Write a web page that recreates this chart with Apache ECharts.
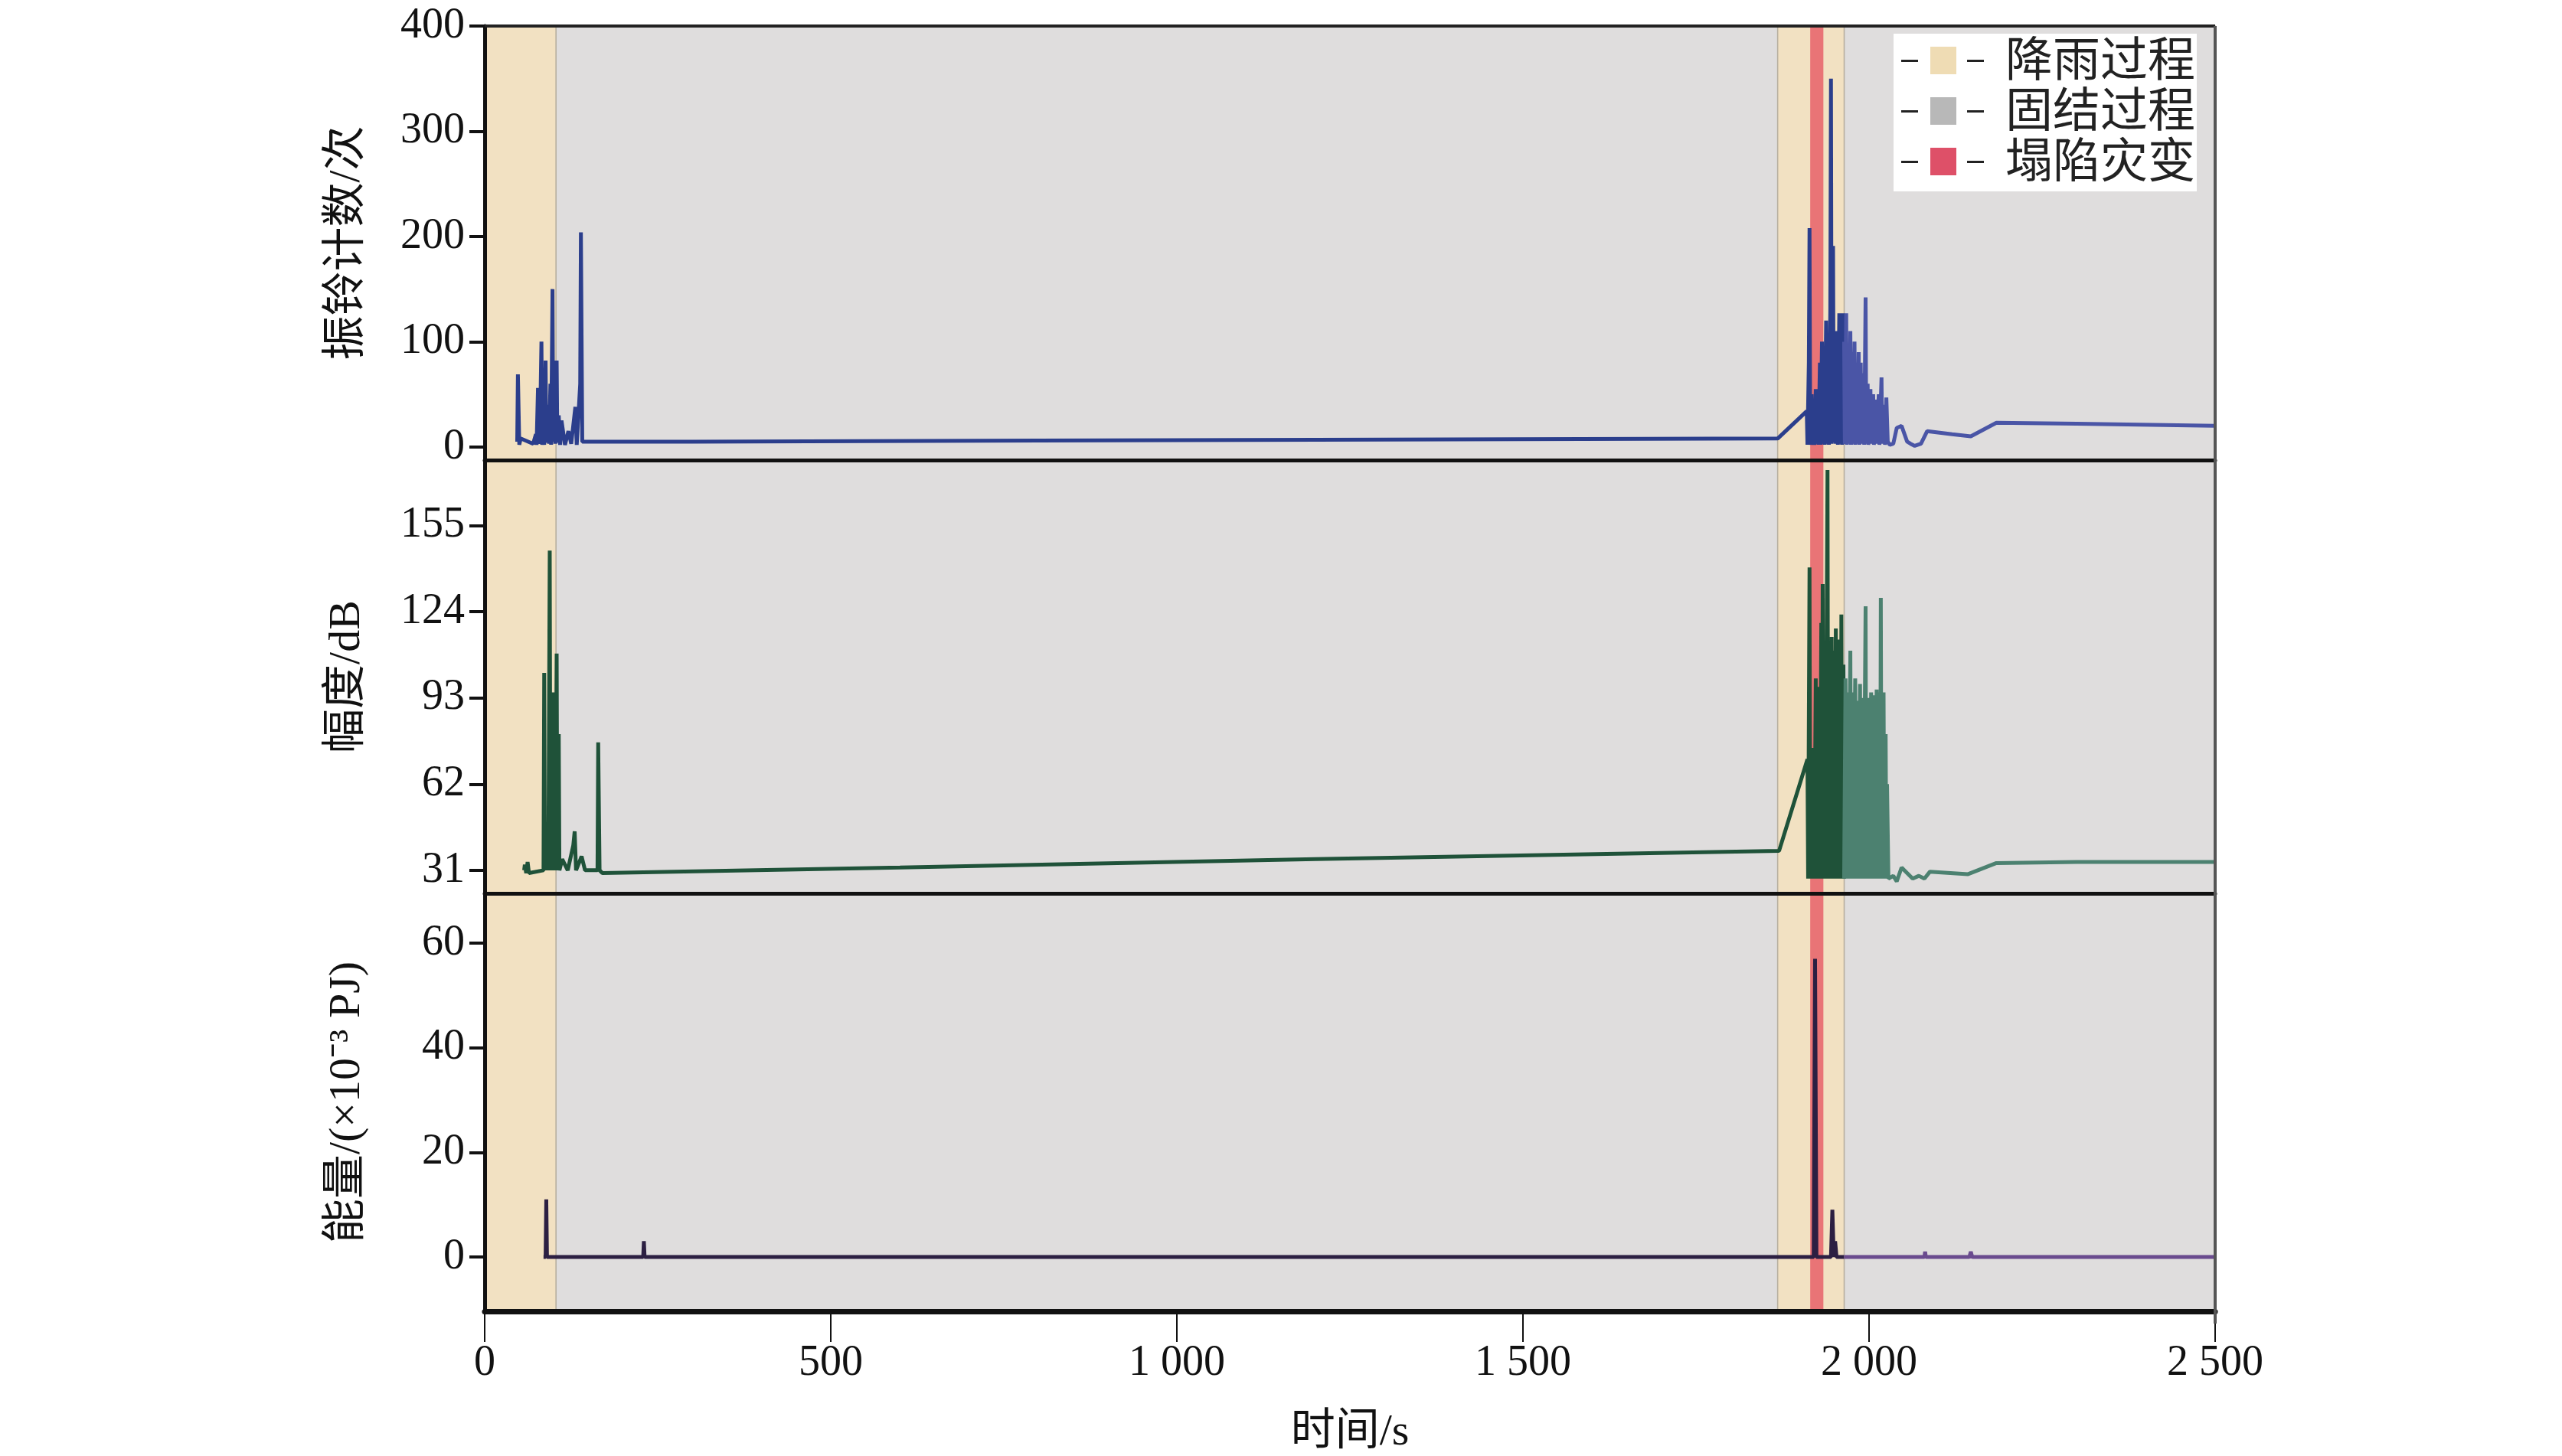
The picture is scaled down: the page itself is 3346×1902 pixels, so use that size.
<!DOCTYPE html>
<html>
<head>
<meta charset="utf-8">
<script src="https://cdn.jsdelivr.net/npm/echarts@6/dist/echarts.min.js"></script>
<style>
html, body { margin: 0; padding: 0; background: #fff; }
#main { width: 3346px; height: 1902px; }
</style>
</head>
<body>
<div id="main"></div>
<script>
// 振铃计数 (time s, count)
var ringEarly = [[47,5],[48,69],[50,2],[52,8],[70,3],[74,12],[75,2],[77,56],[78,3],[80,20],[82,100],[83,2],[85,30],[86,2],[88,82],[89,4],[91,40],[93,3],[95,60],[96,2],[98,150],[99,5],[101,35],[102,3],[104,82],[105,4],[107,30],[109,2],[111,25],[116,2],[121,15],[125,3],[131,38],[133,2],[138,60],[139,204],[141,5],[300,5],[800,6],[1300,7],[1868,8],[1910,34],[1911,2],[1913,80],[1914,208],[1915,2],[1917,50],[1918,2],[1920,45],[1921,2],[1923,55],[1924,3],[1926,40],[1927,2],[1929,80],[1930,2],[1932,100],[1933,3],[1935,60],[1936,2],[1938,120],[1939,3],[1941,90],[1942,2],[1944,130],[1945,350],[1946,3],[1948,191],[1949,4],[1951,90],[1952,3],[1954,110],[1955,2],[1957,127],[1958,3],[1960,80],[1961,2],[1962,127],[1963,3],[1964,100]]
var ringLate = [[1964,100],[1965,3],[1967,127],[1968,2],[1970,80],[1971,3],[1973,110],[1974,2],[1976,90],[1977,3],[1979,100],[1980,2],[1982,70],[1983,3],[1985,90],[1986,2],[1988,80],[1989,3],[1992,70],[1993,2],[1995,142],[1996,3],[1998,60],[1999,2],[2002,55],[2003,3],[2006,50],[2007,2],[2010,45],[2011,3],[2014,50],[2015,2],[2018,66],[2019,3],[2022,40],[2023,2],[2025,47],[2027,5],[2030,2],[2035,3],[2040,18],[2047,20],[2055,5],[2060,3],[2066,1],[2075,3],[2084,15],[2120,12],[2147,10],[2184,23],[2300,22],[2500,20]]
// 幅度 dB
var ampEarly = [[57,31],[58,33],[60,30],[62,34],[64,30],[85,31],[86,102],[87,31],[90,40],[92,31],[94,146],[95,31],[97,60],[98,31],[99,95],[100,33],[101,85],[102,31],[104,109],[105,31],[107,80],[108,31],[112,35],[120,31],[128,40],[130,45],[132,31],[140,36],[145,31],[163,31],[164,77],[166,31],[170,30],[600,32],[1200,35],[1870,38],[1911,71],[1912,28],[1914,140],[1915,28],[1917,60],[1918,28],[1920,75],[1921,28],[1923,100],[1924,28],[1925,97],[1926,28],[1928,90],[1929,28],[1931,120],[1932,28],[1933,134],[1934,28],[1936,100],[1937,28],[1940,175],[1941,28],[1943,105],[1944,28],[1946,115],[1947,28],[1949,110],[1950,28],[1952,118],[1953,28],[1955,114],[1956,28],[1958,100],[1959,28],[1960,123],[1961,28],[1963,105],[1964,28]]
var ampLate = [[1964,28],[1966,100],[1967,28],[1969,95],[1970,28],[1973,110],[1974,28],[1976,95],[1977,28],[1980,100],[1981,28],[1983,92],[1984,28],[1987,98],[1988,28],[1991,93],[1992,28],[1995,126],[1996,28],[1999,93],[2000,28],[2003,95],[2004,28],[2007,94],[2008,28],[2011,96],[2012,28],[2015,95],[2016,28],[2017,129],[2018,28],[2021,95],[2022,28],[2024,80],[2025,28],[2026,62],[2028,28],[2035,29],[2040,27],[2047,32],[2055,30],[2063,28],[2072,29],[2080,28],[2088,30.5],[2143,29.6],[2184,33.6],[2300,34],[2500,34]]
// 能量
var energyEarly = [[85,0],[88,0],[89,11],[90,0],[229,0],[230,3],[231,0],[1000,0],[1920,0],[1922,57],[1924,0],[1945,0],[1947,9],[1949,0],[1951,3],[1953,0],[1964,0]]
var energyLate = [[1964,0],[2080,0],[2081,1],[2082,0],[2145,0],[2147,1],[2149,0],[2500,0]]

var rainRanges = [[0,103],[1868,1964]]
var consolRanges = [[103,1868],[1964,2500]]
var collapseRanges = [[1915,1934]]
var yNames = ['振铃计数/次', '幅度/dB', '能量/(×10⁻³ PJ)']
var yTicks = [[0,100,200,300,400],[31,62,93,124,155],[0,20,40,60]]
var yMin = [-12.5, 22.7, -10.4]
var yMax = [400, 178.6, 69.5]
var xTicks = [0,500,1000,1500,2000,2500]

var FONT = '"Liberation Serif", "Noto Sans CJK SC", serif'
var PL = 633, PW = 2260
var grids = [
  {left: PL, width: PW, top: 34, height: 567},
  {left: PL, width: PW, top: 601, height: 566},
  {left: PL, width: PW, top: 1167, height: 562}
]

function bands(list, color) {
  return list.map(function (r) {
    return [{xAxis: r[0], itemStyle: {color: color, borderColor: '#b8b0a0', borderWidth: 1.5}}, {xAxis: r[1]}]
  })
}

var xAxes = [], yAxes = [], series = []
for (let i = 0; i < 3; i++) {
  xAxes.push({
    type: 'value', gridIndex: i, min: 0, max: 2500, interval: 500, z: 6,
    axisLine: {show: true, onZero: false, lineStyle: {color: '#111', width: i == 2 ? 7 : 5}},
    axisTick: {show: i == 2, length: 40, lineStyle: {color: '#111', width: 2}, customValues: xTicks},
    axisLabel: {show: i == 2, customValues: xTicks, margin: 40, fontFamily: FONT, fontSize: 56, color: '#111',
      formatter: function (v) { return v >= 1000 ? String(v).replace(/(\d)(\d{3})$/, '$1 $2') : String(v) }},
    splitLine: {show: false},
    name: i == 2 ? '时间/s' : '', nameLocation: 'middle', nameGap: 130,
    nameTextStyle: {fontFamily: FONT, fontSize: 58, color: '#111'}
  })
  yAxes.push({
    type: 'value', gridIndex: i, min: yMin[i], max: yMax[i], z: 6,
    axisLine: {show: true, onZero: false, lineStyle: {color: '#111', width: 5}},
    axisTick: {show: true, length: 20, lineStyle: {color: '#111', width: 4}, customValues: yTicks[i]},
    axisLabel: {customValues: yTicks[i], margin: 26, fontFamily: FONT, fontSize: 56, color: '#111'},
    splitLine: {show: false},
    name: yNames[i], nameLocation: 'middle', nameRotate: 90, nameGap: 150,
    nameTextStyle: {fontFamily: FONT, fontSize: 58, color: '#111'}
  })
  // 背景区段
  series.push({
    type: 'line', xAxisIndex: i, yAxisIndex: i, data: [], silent: true, z: 1,
    markArea: {silent: true, data: bands(consolRanges, '#dfdddd').concat(bands(rainRanges, '#f2e1c2'))}
  })
  series.push({
    type: 'line', xAxisIndex: i, yAxisIndex: i, data: [], silent: true, z: 1,
    markArea: {silent: true, data: collapseRanges.map(function (r) {
      return [{xAxis: r[0], itemStyle: {color: 'rgba(232,96,104,0.85)'}}, {xAxis: r[1]}]
    })}
  })
}

var lineSets = [
  [ringEarly, '#2b3e8c', 0], [ringLate, '#4a55a6', 0],
  [ampEarly, '#1f5239', 1], [ampLate, '#4c8170', 1],
  [energyEarly, '#2c1f42', 2], [energyLate, '#6a4b8e', 2]
]
lineSets.forEach(function (s) {
  series.push({
    type: 'line', xAxisIndex: s[2], yAxisIndex: s[2], data: s[0], showSymbol: false,
    lineStyle: {color: s[1], width: 5}, z: 3, animation: false
  })
})

// 图例
var legendItems = [['降雨过程', '#efdcb4'], ['固结过程', '#b8b8b8'], ['塌陷灾变', '#de5068']]
var LX = PL + PW - 420
var graphic = [{type: 'rect', left: LX, top: 44, shape: {width: 396, height: 206}, style: {fill: '#fff'}, z: 10}]
legendItems.forEach(function (it, k) {
  var cy = 44 + 35 + k * 66
  graphic.push({type: 'rect', left: LX + 10, top: cy - 1, shape: {width: 22, height: 3}, style: {fill: '#222'}, z: 11})
  graphic.push({type: 'rect', left: LX + 48, top: cy - 18, shape: {width: 34, height: 36}, style: {fill: it[1]}, z: 11})
  graphic.push({type: 'rect', left: LX + 96, top: cy - 1, shape: {width: 22, height: 3}, style: {fill: '#222'}, z: 11})
  graphic.push({type: 'text', left: LX + 146, top: cy - 34, style: {text: it[0], font: '62px "Noto Sans CJK SC"', fill: '#222'}, z: 11})
})
// 顶部与右侧边框
graphic.push({type: 'rect', left: PL, top: 32, shape: {width: PW, height: 4}, style: {fill: '#222'}, z: 9})
graphic.push({type: 'rect', left: PL + PW - 2, top: 34, shape: {width: 4, height: 1695}, style: {fill: '#555'}, z: 9})

var chart = echarts.init(document.getElementById('main'))
chart.setOption({
  animation: false,
  backgroundColor: '#fff',
  grid: grids,
  xAxis: xAxes,
  yAxis: yAxes,
  series: series,
  graphic: graphic
})
</script>
</body>
</html>
